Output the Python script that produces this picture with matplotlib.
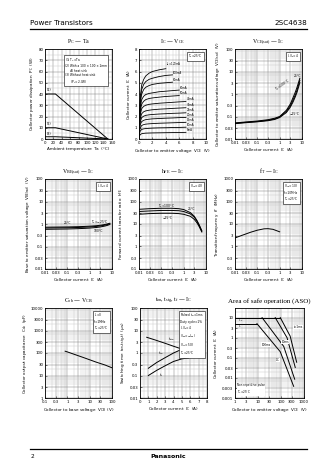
import matplotlib
matplotlib.use("Agg")
import matplotlib.pyplot as plt
from matplotlib.ticker import FixedLocator, MultipleLocator, LogLocator, NullFormatter

plt.rcParams['font.family'] = ['DejaVu Sans']
plt.rcParams['mathtext.default'] = 'regular'

W, H = 336, 474

# ---- data ----
# Pc - Ta
ta_1 = [0, 25, 150]
pc_1 = [40, 40, 0]
ta_2 = [0, 25, 150]
pc_2 = [10, 10, 0]
ta_3 = [0, 25, 150]
pc_3 = [2, 2, 0]

# Ic - Vce
vce = [0, 0.1, 0.2, 0.4, 0.7, 1, 1.5, 2, 3, 4, 5, 6, 7]
ib_labels = ['I$_B$=120mA', '100mA', '80mA', '60mA', '50mA', '40mA',
             '30mA', '25mA', '20mA', '15mA', '10mA', '5mA']
ib_curves = [
    [0, 2.6, 3.8, 4.8, 5.3, 5.6, 5.85, 6.0, 6.15, 6.25],
    [0, 2.4, 3.5, 4.4, 4.85, 5.1, 5.3, 5.4, 5.55, 5.65, 5.7],
    [0, 2.2, 3.2, 4.0, 4.4, 4.6, 4.75, 4.85, 4.95, 5.0, 5.05],
    [0, 1.9, 2.8, 3.5, 3.8, 3.95, 4.05, 4.1, 4.2, 4.25, 4.3, 4.35],
    [0, 1.7, 2.5, 3.1, 3.35, 3.5, 3.6, 3.65, 3.72, 3.78, 3.82, 3.86],
    [0, 1.5, 2.2, 2.7, 2.9, 3.0, 3.08, 3.12, 3.18, 3.22, 3.26, 3.3, 3.33],
    [0, 1.3, 1.85, 2.25, 2.42, 2.5, 2.56, 2.6, 2.65, 2.68, 2.72, 2.75, 2.78],
    [0, 1.1, 1.55, 1.9, 2.03, 2.1, 2.15, 2.18, 2.22, 2.25, 2.28, 2.3, 2.33],
    [0, 0.95, 1.3, 1.55, 1.66, 1.72, 1.76, 1.79, 1.82, 1.85, 1.87, 1.9, 1.92],
    [0, 0.75, 1.0, 1.2, 1.28, 1.32, 1.35, 1.37, 1.4, 1.42, 1.44, 1.46, 1.48],
    [0, 0.55, 0.72, 0.85, 0.9, 0.93, 0.95, 0.97, 0.99, 1.0, 1.02, 1.03, 1.05],
    [0, 0.3, 0.4, 0.47, 0.5, 0.52, 0.53, 0.54, 0.55, 0.56, 0.57, 0.58, 0.59],
]

# Vce(sat) / Vbe(sat) - Ic
ic_sat = [0.01, 0.03, 0.1, 0.3, 0.6, 1, 2, 3, 4, 5, 6, 8]
vcesat_25 = [0.05, 0.055, 0.06, 0.068, 0.078, 0.095, 0.17, 0.3, 0.55, 0.9, 1.5, 4.0]
vcesat_100 = [0.052, 0.057, 0.063, 0.072, 0.084, 0.1, 0.19, 0.36, 0.7, 1.2, 2.0, 5.0]
vcesat_m25 = [0.048, 0.053, 0.058, 0.065, 0.074, 0.09, 0.15, 0.26, 0.45, 0.75, 1.2, 3.2]
vbesat_25 = [0.66, 0.67, 0.68, 0.7, 0.72, 0.74, 0.78, 0.82, 0.86, 0.9, 0.94, 1.02]
vbesat_m25 = [0.72, 0.73, 0.74, 0.76, 0.78, 0.8, 0.84, 0.88, 0.92, 0.96, 1.0, 1.08]
vbesat_100 = [0.58, 0.59, 0.6, 0.62, 0.64, 0.66, 0.7, 0.74, 0.78, 0.82, 0.86, 0.95]

# hFE - Ic
ic_h = [0.01, 0.03, 0.1, 0.3, 0.6, 1, 2, 3, 4, 5, 6.5]
hfe_100 = [45, 48, 50, 50, 48, 44, 32, 22, 14, 9, 5]
hfe_25 = [36, 38, 40, 40, 39, 36, 28, 20, 13, 8.5, 4.8]
hfe_m25 = [27, 29, 30, 30, 29, 27, 22, 16, 11, 7.5, 4.4]

# fT - Ic
ic_ft = [0.01, 0.02, 0.05, 0.1, 0.2, 0.3, 0.5, 1]
ft = [2.4, 3.1, 4.3, 5.3, 6.1, 6.2, 5.8, 4.5]

# Cob - Vcb
vcb = [0.8, 1, 2, 5, 10, 20, 50, 100]
cob = [120, 112, 88, 64, 50, 39, 29, 22]

# switching time - Ic
ic_stg = [0.8, 2, 3, 4, 5]
t_stg = [5.0, 3.6, 2.7, 2.0, 1.5]
ic_on = [1, 2, 3, 4, 5.4]
t_on = [0.21, 0.38, 0.62, 1.0, 1.7]
ic_f = [1, 2, 3, 4, 5, 5.8]
t_f = [0.1, 0.17, 0.27, 0.42, 0.55, 0.6]

# ASO
icp_v = [1, 93]
icp_i = [10, 10]
ic_v = [1, 9]
ic_i = [5, 5]
aso_dc_v = [9, 93, 355]
aso_dc_i = [5, 0.2, 0.0038]
aso_100ms_v = [15, 131, 393]
aso_100ms_i = [10, 0.37, 0.0086]
aso_10ms_v = [56, 183, 417]
aso_10ms_i = [10, 1.0, 0.033]
aso_1ms_v = [93, 250, 480]
aso_1ms_i = [10, 1.2, 0.06]

log_x_ticks = [0.01, 0.03, 0.1, 0.3, 1, 3, 10]
log_x_labels = ['0.01', '0.03', '0.1', '0.3', '1', '3', '10']

fig = plt.figure(figsize=(W / 100, H / 100), dpi=100)

TS = 2.8   # tick label size
LS = 3.0   # axis label size
NS = 2.1   # note size
SERIF = ['Liberation Serif', 'DejaVu Serif']


def make_ax(l, t, w=67, h=90):
    ax = fig.add_axes([l / W, 1 - (t + h) / H, w / W, h / H])
    ax.tick_params(which='both', direction='in', labelsize=TS, length=1.2, width=0.4, pad=1.2)
    ax.tick_params(which='minor', length=0)
    for s in ax.spines.values():
        s.set_linewidth(0.6)
    ax.set_axisbelow(True)
    return ax


def grids(ax):
    ax.grid(which='major', color='#808080', lw=0.35)
    ax.grid(which='minor', color='#c4c4c4', lw=0.3)


def log_axis(axis, ticks, labels):
    axis.set_major_locator(FixedLocator(ticks))
    axis.set_ticklabels(labels)
    axis.set_minor_locator(LogLocator(base=10, subs=range(2, 10), numticks=20))
    axis.set_minor_formatter(NullFormatter())


def title(ax, txt, size=4.2):
    ax.set_title(txt, fontsize=size, pad=4, family=SERIF)


def labels(ax, xl, yl):
    ax.set_xlabel(xl, fontsize=LS, labelpad=1.5)
    ax.set_ylabel(yl, fontsize=LS, labelpad=1.5)


def note(ax, txt, x=0.95, y=0.96):
    ax.text(x, y, txt, transform=ax.transAxes, fontsize=NS, ha='right', va='top',
            linespacing=1.15, multialignment='left',
            bbox=dict(boxstyle='square,pad=0.3', fc='white', ec='black', lw=0.4))


# ---- header / footer ----
fig.text(30 / W, 1 - 23 / H, 'Power Transistors', fontsize=5.2, ha='left', va='center')
fig.text(307 / W, 1 - 23 / H, '2SC4638', fontsize=5.2, ha='right', va='center')
fig.add_artist(plt.Line2D([30 / W, 307 / W], [1 - 29 / H, 1 - 29 / H], color='black', lw=0.9))
fig.add_artist(plt.Line2D([30 / W, 307 / W], [1 - 449 / H, 1 - 449 / H], color='black', lw=0.9))
fig.text(31 / W, 1 - 457 / H, '2', fontsize=4.2, ha='left', va='center')
fig.text(168 / W, 1 - 457 / H, 'Panasonic', fontsize=4.5, ha='center', va='center', weight='bold')

# ---- Pc - Ta ----
ax = make_ax(45, 49)
ax.plot(ta_1, pc_1, color='black', lw=0.7)
ax.plot(ta_2, pc_2, color='black', lw=0.7)
ax.plot(ta_3, pc_3, color='black', lw=0.7)
ax.set_xlim(0, 160)
ax.set_ylim(0, 80)
ax.xaxis.set_major_locator(MultipleLocator(20))
ax.yaxis.set_major_locator(MultipleLocator(10))
ax.xaxis.set_minor_locator(MultipleLocator(10))
ax.yaxis.set_minor_locator(MultipleLocator(5))
grids(ax)
ax.text(5, 41.5, '(1)', fontsize=2.4, va='bottom')
ax.text(5, 11.5, '(2)', fontsize=2.4, va='bottom')
ax.text(5, 3.0, '(3)', fontsize=2.4, va='bottom')
note(ax, '(1) T$_C$=Ta\n(2) With a 100 × 100 × 2mm\n      Al heat sink\n(3) Without heat sink\n      (P$_C$=2.0W)',
     x=0.93, y=0.92)
title(ax, 'P$_C$ — Ta')
labels(ax, 'Ambient temperature  Ta  (°C)', 'Collector power dissipation  P$_C$  (W)')

# ---- Ic - Vce ----
ax = make_ax(139, 49)
for lab, cur in zip(ib_labels, ib_curves):
    xs = vce[:len(cur)]
    ax.plot(xs, cur, color='black', lw=0.6)
    ax.text(xs[-1] + 0.1, cur[-1] + 0.03, lab, fontsize=1.9, ha='left', va='bottom')
ax.set_xlim(0, 10)
ax.set_ylim(0, 8)
ax.xaxis.set_major_locator(MultipleLocator(2))
ax.yaxis.set_major_locator(MultipleLocator(1))
ax.xaxis.set_minor_locator(MultipleLocator(0.5))
ax.yaxis.set_minor_locator(MultipleLocator(0.5))
grids(ax)
note(ax, 'T$_a$=25°C', x=0.95, y=0.96)
title(ax, 'I$_C$ — V$_{CE}$')
labels(ax, 'Collector to emitter voltage  V$_{CE}$  (V)', 'Collector current  I$_C$  (A)')

# ---- Vce(sat) - Ic ----
ax = make_ax(235, 49)
ax.loglog(ic_sat, vcesat_100, color='black', lw=0.7)
ax.loglog(ic_sat, vcesat_25, color='black', lw=0.7)
ax.loglog(ic_sat, vcesat_m25, color='black', lw=0.7)
ax.set_xlim(0.01, 10)
ax.set_ylim(0.01, 100)
log_axis(ax.xaxis, log_x_ticks, log_x_labels)
log_axis(ax.yaxis, [0.01, 0.03, 0.1, 0.3, 1, 3, 10, 30, 100],
         ['0.01', '0.03', '0.1', '0.3', '1', '3', '10', '30', '100'])
grids(ax)
note(ax, 'I$_C$/I$_B$=4')
ax.text(0.55, 1.4, 'T$_a$=100°C', fontsize=2.2, ha='left', rotation=35)
ax.text(6.0, 5.5, '25°C', fontsize=2.2, ha='center')
ax.text(4.5, 0.12, '−25°C', fontsize=2.2, ha='center')
title(ax, 'V$_{CE(sat)}$ — I$_C$')
labels(ax, 'Collector current  I$_C$  (A)', 'Collector to emitter saturation voltage  V$_{CE(sat)}$  (V)')

# ---- Vbe(sat) - Ic ----
ax = make_ax(45, 179)
ax.loglog(ic_sat, vbesat_m25, color='black', lw=0.7)
ax.loglog(ic_sat, vbesat_25, color='black', lw=0.7)
ax.loglog(ic_sat, vbesat_100, color='black', lw=0.7)
ax.set_xlim(0.01, 10)
ax.set_ylim(0.01, 100)
log_axis(ax.xaxis, log_x_ticks, log_x_labels)
log_axis(ax.yaxis, [0.01, 0.03, 0.1, 0.3, 1, 3, 10, 30, 100],
         ['0.01', '0.03', '0.1', '0.3', '1', '3', '10', '30', '100'])
grids(ax)
note(ax, 'I$_C$/I$_B$=4')
ax.text(0.1, 1.05, '25°C', fontsize=2.2, ha='center')
ax.text(1.2, 1.1, 'T$_a$=−25°C', fontsize=2.2, ha='left')
ax.text(2.5, 0.45, '100°C', fontsize=2.2, ha='center')
title(ax, 'V$_{BE(sat)}$ — I$_C$')
labels(ax, 'Collector current  I$_C$  (A)', 'Base to emitter saturation voltage  V$_{BE(sat)}$  (V)')

# ---- hFE - Ic ----
ax = make_ax(139, 179)
ax.loglog(ic_h, hfe_100, color='black', lw=0.7)
ax.loglog(ic_h, hfe_25, color='black', lw=0.7)
ax.loglog(ic_h, hfe_m25, color='black', lw=0.7)
ax.set_xlim(0.01, 10)
ax.set_ylim(0.1, 1000)
log_axis(ax.xaxis, log_x_ticks, log_x_labels)
log_axis(ax.yaxis, [0.1, 0.3, 1, 3, 10, 30, 100, 300, 1000],
         ['0.1', '0.3', '1', '3', '10', '30', '100', '300', '1000'])
grids(ax)
note(ax, 'V$_{CE}$=4V')
ax.text(0.17, 57, 'T$_a$=100°C', fontsize=2.2, ha='center')
ax.text(2.3, 42, '25°C', fontsize=2.2, ha='center')
ax.text(0.19, 16, '−25°C', fontsize=2.2, ha='center')
title(ax, 'h$_{FE}$ — I$_C$')
labels(ax, 'Collector current  I$_C$  (A)', 'Forward current transfer ratio  h$_{FE}$')

# ---- fT - Ic ----
ax = make_ax(235, 179)
ax.loglog(ic_ft, ft, color='black', lw=0.7)
ax.set_xlim(0.01, 10)
ax.set_ylim(0.1, 1000)
log_axis(ax.xaxis, log_x_ticks, log_x_labels)
log_axis(ax.yaxis, [0.1, 0.3, 1, 3, 10, 30, 100, 300, 1000],
         ['0.1', '0.3', '1', '3', '10', '30', '100', '300', '1000'])
grids(ax)
note(ax, 'V$_{CE}$=10V\nf=10MHz\nT$_a$=25°C')
title(ax, 'f$_T$ — I$_C$')
labels(ax, 'Collector current  I$_C$  (A)', 'Transition frequency  f$_T$  (MHz)')

# ---- Cob - Vcb ----
ax = make_ax(45, 308)
ax.loglog(vcb, cob, color='black', lw=0.7)
ax.set_xlim(0.1, 100)
ax.set_ylim(1, 10000)
log_axis(ax.xaxis, [0.1, 0.3, 1, 3, 10, 30, 100], ['0.1', '0.3', '1', '3', '10', '30', '100'])
log_axis(ax.yaxis, [1, 3, 10, 30, 100, 300, 1000, 3000, 10000],
         ['1', '3', '10', '30', '100', '300', '1000', '3000', '10000'])
grids(ax)
note(ax, 'I$_E$=0\nf=1MHz\nT$_a$=25°C')
title(ax, 'C$_{ob}$ — V$_{CB}$')
labels(ax, 'Collector to base voltage  V$_{CB}$  (V)', 'Collector output capacitance  C$_{ob}$  (pF)')

# ---- switching time ----
ax = make_ax(140, 308)
ax.semilogy(ic_stg, t_stg, color='black', lw=0.7)
ax.semilogy(ic_on, t_on, color='black', lw=0.7)
ax.semilogy(ic_f, t_f, color='black', lw=0.7)
ax.set_xlim(0, 8)
ax.set_ylim(0.01, 100)
ax.xaxis.set_major_locator(MultipleLocator(1))
ax.xaxis.set_minor_locator(MultipleLocator(0.5))
log_axis(ax.yaxis, [0.01, 0.03, 0.1, 0.3, 1, 3, 10, 30, 100],
         ['0.01', '0.03', '0.1', '0.3', '1', '3', '10', '30', '100'])
grids(ax)
note(ax, 'Pulsed t$_w$=1ms\nDuty cycle=1%\nI$_C$/I$_B$=4\n(I$_{B1}$=−I$_{B2}$)\nV$_{CC}$=50V\nT$_a$=25°C',
     x=0.95, y=0.96)
ax.text(3.3, 4.0, 't$_{stg}$', fontsize=2.5)
ax.text(2.2, 0.85, 't$_{on}$', fontsize=2.5)
ax.text(2.3, 0.09, 't$_f$', fontsize=2.5)
title(ax, 't$_{on}$, t$_{stg}$, t$_f$ — I$_C$')
labels(ax, 'Collector current  I$_C$  (A)', 'Switching time  t$_{on}$,t$_{stg}$,t$_f$  (µs)')

# ---- ASO ----
ax = make_ax(235, 308, w=69)
ax.loglog(icp_v, icp_i, color='black', lw=0.7)
ax.loglog(ic_v, ic_i, color='black', lw=0.7)
ax.loglog(aso_dc_v, aso_dc_i, color='black', lw=0.7)
ax.loglog(aso_100ms_v, aso_100ms_i, color='black', lw=0.7)
ax.loglog(aso_10ms_v, aso_10ms_i, color='black', lw=0.7)
ax.loglog(aso_1ms_v, aso_1ms_i, color='black', lw=0.7)
ax.set_xlim(1, 1000)
ax.set_ylim(0.001, 30)
log_axis(ax.xaxis, [1, 3, 10, 30, 100, 300, 1000], ['1', '3', '10', '30', '100', '300', '1000'])
log_axis(ax.yaxis, [0.001, 0.003, 0.01, 0.03, 0.1, 0.3, 1, 3, 10],
         ['0.001', '0.003', '0.01', '0.03', '0.1', '0.3', '1', '3', '10'])
grids(ax)
wb = dict(boxstyle='square,pad=0.1', fc='white', ec='none')
ax.text(1.3, 6.5, 'I$_{CP}$', fontsize=2.2)
ax.text(1.3, 3.2, 'I$_C$', fontsize=2.2)
ax.text(560, 3.0, 't=1ms', fontsize=2.0, ha='center', bbox=wb)
ax.text(150, 0.55, '10ms', fontsize=2.0, ha='center', bbox=wb)
ax.text(22, 0.4, '100ms', fontsize=2.0, ha='center', bbox=wb)
ax.text(75, 0.07, 'DC', fontsize=2.0, ha='center', bbox=wb)
ax.text(1.2, 0.0013, 'Non repetitive pulse\nT$_C$=25°C', fontsize=2.0, ha='left', va='bottom',
        bbox=wb)
title(ax, 'Area of safe operation (ASO)', size=5.0)
labels(ax, 'Collector to emitter voltage  V$_{CE}$  (V)', 'Collector current  I$_C$  (A)')

fig.savefig('out.png', dpi=100)
